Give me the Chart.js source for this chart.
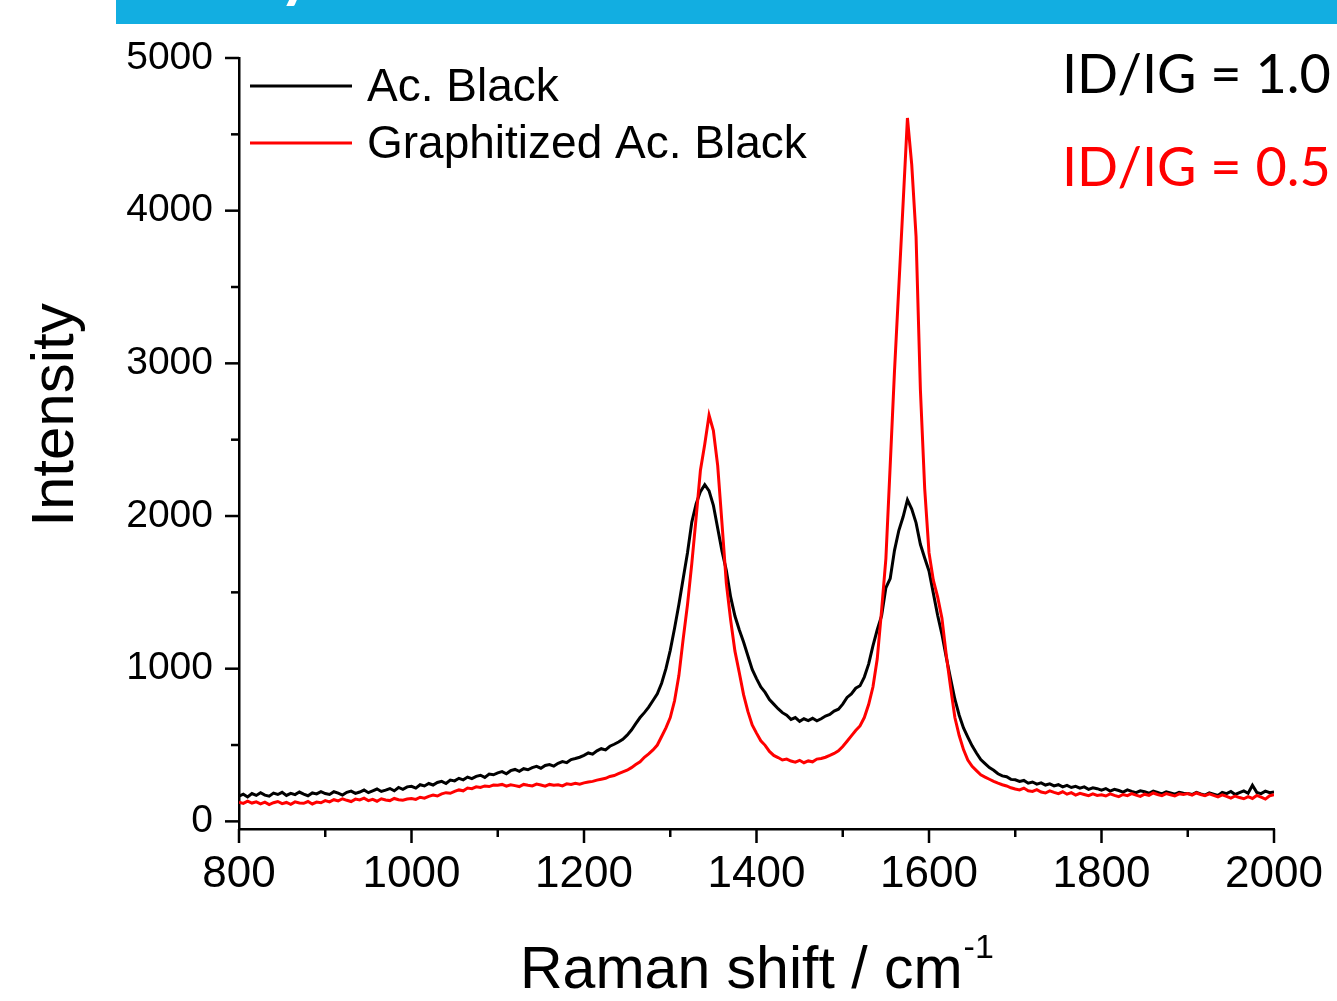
<!DOCTYPE html>
<html>
<head>
<meta charset="utf-8">
<title>Raman spectra</title>
<script src="https://cdn.jsdelivr.net/npm/chart.js@4.4.1/dist/chart.umd.min.js"></script>
<style>
  html, body { margin: 0; padding: 0; background: #fff; overflow: hidden; }
  #wrap { position: relative; width: 1337px; height: 1001px; }
  #banner { position: absolute; left: 116px; top: 0; width: 1221px; height: 24px; background: #12aee1; overflow: hidden; }
  #banner span { position: absolute; left: 163px; top: -60px; font: bold 64px/64px Lato, "Open Sans", sans-serif; color: #fff; }
  #spectrum { position: absolute; left: 0; top: 0; }
</style>
</head>
<body>
<div id="wrap">
  <div id="banner"><span>y</span></div>
  <canvas id="spectrum" width="1337" height="1001"></canvas>
</div>
<script>
// Raman shift grid (cm^-1)
const ramanShift = [
  800,805,810,815,820,825,830,835,840,845,850,855,860,865,870,875,880,885,890,895,
  900,905,910,915,920,925,930,935,940,945,950,955,960,965,970,975,980,985,990,995,
  1000,1005,1010,1015,1020,1025,1030,1035,1040,1045,1050,1055,1060,1065,1070,1075,1080,1085,1090,1095,
  1100,1105,1110,1115,1120,1125,1130,1135,1140,1145,1150,1155,1160,1165,1170,1175,1180,1185,1190,1195,
  1200,1205,1210,1215,1220,1225,1230,1235,1240,1245,1250,1255,1260,1265,1270,1275,1280,1285,1290,1295,
  1300,1305,1310,1315,1320,1325,1330,1335,1340,1345,1350,1355,1360,1365,1370,1375,1380,1385,1390,1395,
  1400,1405,1410,1415,1420,1425,1430,1435,1440,1445,1450,1455,1460,1465,1470,1475,1480,1485,1490,1495,
  1500,1505,1510,1515,1520,1525,1530,1535,1540,1545,1550,1555,1560,1565,1570,1575,1580,1585,1590,1595,
  1600,1605,1610,1615,1620,1625,1630,1635,1640,1645,1650,1655,1660,1665,1670,1675,1680,1685,1690,1695,
  1700,1705,1710,1715,1720,1725,1730,1735,1740,1745,1750,1755,1760,1765,1770,1775,1780,1785,1790,1795,
  1800,1805,1810,1815,1820,1825,1830,1835,1840,1845,1850,1855,1860,1865,1870,1875,1880,1885,1890,1895,
  1900,1905,1910,1915,1920,1925,1930,1935,1940,1945,1950,1955,1960,1965,1970,1975,1980,1985,1990,1995,
  2000
];

// Ac. Black intensity
const acBlack = [
  165,178,160,182,170,188,172,165,185,176,190,170,183,175,192,178,168,186,180,195,
  182,176,194,185,172,190,198,183,192,205,188,200,212,196,205,215,200,222,210,226,
  230,218,240,232,248,238,255,262,248,270,265,282,272,290,280,295,302,288,310,305,
  318,326,312,332,340,328,345,338,352,360,348,366,372,362,380,392,385,405,412,420,
  432,448,440,462,476,468,492,505,520,538,565,598,640,680,712,748,792,835,905,1000,
  1120,1265,1420,1590,1760,1960,2080,2160,2205,2165,2070,1920,1770,1645,1470,1345,1255,1175,1085,995,
  935,880,845,798,768,738,712,695,668,680,655,672,660,675,658,672,690,700,722,735,
  768,812,835,872,888,945,1030,1150,1255,1345,1530,1590,1775,1905,1995,2105,2045,1955,1815,1725,
  1640,1495,1350,1225,1075,935,800,695,612,552,495,448,405,378,352,335,312,298,292,275,
  272,262,268,250,258,244,252,238,246,232,240,226,236,222,230,218,226,210,220,214,
  205,215,198,210,202,192,206,196,188,200,194,184,198,190,180,194,186,178,190,184,
  182,176,190,180,172,186,178,170,190,182,196,176,188,200,184,236,190,182,198,188,
  192
];

// Graphitized Ac. Black intensity
const graphitizedBlack = [
  125,118,132,120,128,115,126,110,122,130,116,124,112,128,120,118,130,114,126,122,
  136,128,142,134,148,138,130,146,140,152,136,144,132,148,140,136,150,142,138,146,
  150,144,158,152,164,172,166,180,188,184,196,206,200,218,214,226,222,232,228,238,
  236,242,230,240,234,228,242,236,232,244,238,230,242,236,240,232,246,242,250,244,
  252,258,262,270,276,282,294,300,312,324,335,352,372,390,420,442,468,500,556,612,
  680,790,955,1195,1420,1690,1990,2300,2470,2660,2560,2330,1950,1560,1320,1115,975,830,720,632,
  578,528,498,458,432,418,402,408,395,388,400,384,396,390,408,412,420,432,445,462,
  490,525,560,595,625,680,765,880,1065,1380,1720,2330,2950,3500,4050,4607,4300,3830,2830,2180,
  1760,1580,1470,1330,1090,880,680,562,470,402,360,332,305,290,276,262,250,240,232,220,
  212,206,218,200,196,208,192,186,200,190,182,194,178,188,172,184,176,168,180,170,
  174,166,180,170,162,176,168,182,172,164,178,170,186,176,168,182,174,166,180,176,
  182,172,186,176,168,180,170,160,174,164,152,166,156,148,162,150,170,158,146,168,
  175
];

const seriesNames = ['Ac. Black', 'Graphitized Ac. Black'];
const ratioLabels = ['ID/IG = 1.0', 'ID/IG = 0.5'];

const xMajorTicks = [800, 1000, 1200, 1400, 1600, 1800, 2000];
const xMinorTicks = [900, 1100, 1300, 1500, 1700, 1900];
const yMajorTicks = [0, 1000, 2000, 3000, 4000, 5000];
const yMinorTicks = [500, 1500, 2500, 3500, 4500];

const ARIAL = '"Liberation Sans", Arial, Helvetica, sans-serif';
const CALIBRI = 'Lato, "Open Sans", sans-serif';

const toPoints = ys => ramanShift.map((x, i) => ({ x: x, y: ys[i] }));

// Tick marks, axis titles, legend and ratio annotations
const decorations = {
  id: 'decorations',
  afterDraw(chart) {
    const { ctx, scales: { x, y } } = chart;
    ctx.save();
    ctx.strokeStyle = '#000';
    ctx.lineWidth = 2.5;
    ctx.lineCap = 'butt';
    const xAxisY = x.top;
    const yAxisX = y.right;
    const seg = (x1, y1, x2, y2) => { ctx.beginPath(); ctx.moveTo(x1, y1); ctx.lineTo(x2, y2); ctx.stroke(); };
    xMajorTicks.forEach(v => { const p = x.getPixelForValue(v); seg(p, xAxisY, p, xAxisY + 14); });
    xMinorTicks.forEach(v => { const p = x.getPixelForValue(v); seg(p, xAxisY, p, xAxisY + 8); });
    yMajorTicks.forEach(v => { const p = y.getPixelForValue(v); seg(yAxisX, p, yAxisX - 14, p); });
    yMinorTicks.forEach(v => { const p = y.getPixelForValue(v); seg(yAxisX, p, yAxisX - 8, p); });

    ctx.fillStyle = '#000';
    // y axis title
    ctx.save();
    ctx.translate(73, 415);
    ctx.rotate(-Math.PI / 2);
    ctx.font = '60px ' + ARIAL;
    ctx.textAlign = 'center';
    ctx.textBaseline = 'alphabetic';
    ctx.fillText('Intensity', 0, 0);
    ctx.restore();

    // x axis title with superscript
    ctx.font = '59px ' + ARIAL;
    ctx.textAlign = 'left';
    ctx.textBaseline = 'alphabetic';
    const main = 'Raman shift / cm';
    ctx.fillText(main, 520, 988);
    const w = ctx.measureText(main).width;
    ctx.font = '34px ' + ARIAL;
    ctx.fillText('-1', 520 + w + 1, 958);

    // legend
    const colors = chart.data.datasets.map(d => d.borderColor);
    const rows = [86, 143];
    ctx.font = '46px ' + ARIAL;
    ctx.textBaseline = 'middle';
    rows.forEach((ry, i) => {
      ctx.strokeStyle = colors[i];
      ctx.lineWidth = 3;
      seg(250, ry, 352, ry);
      ctx.fillStyle = '#000';
      ctx.fillText(seriesNames[i], 367, ry + 2);
    });

    // ID/IG ratios
    ctx.font = '54px ' + CALIBRI;
    ctx.textBaseline = 'alphabetic';
    ctx.fillStyle = colors[0];
    ctx.fillText(ratioLabels[0], 1062, 93);
    ctx.fillStyle = colors[1];
    ctx.fillText(ratioLabels[1], 1062, 186);
    ctx.restore();
  }
};

new Chart(document.getElementById('spectrum'), {
  type: 'line',
  data: {
    datasets: [
      { label: seriesNames[0], data: toPoints(acBlack), borderColor: '#000000', borderWidth: 3, pointRadius: 0, tension: 0, order: 2 },
      { label: seriesNames[1], data: toPoints(graphitizedBlack), borderColor: '#ff0000', borderWidth: 3, pointRadius: 0, tension: 0, order: 1 }
    ]
  },
  options: {
    responsive: false,
    animation: false,
    devicePixelRatio: 1,
    layout: { padding: { top: 58, right: 63, left: 0, bottom: 0 } },
    plugins: { legend: { display: false }, tooltip: { enabled: false } },
    scales: {
      x: {
        type: 'linear', min: 800, max: 2000,
        afterBuildTicks: s => { s.ticks = xMajorTicks.map(v => ({ value: v })); },
        afterFit: s => { s.height = 172; s.paddingLeft = 0; s.paddingRight = 0; },
        grid: { display: false, drawTicks: false },
        border: { display: true, color: '#000', width: 2.5 },
        ticks: { color: '#000', font: { family: ARIAL, size: 44 }, padding: 19, maxRotation: 0, autoSkip: false, callback: v => String(v) }
      },
      y: {
        type: 'linear', min: -50, max: 5000,
        afterBuildTicks: s => { s.ticks = yMajorTicks.map(v => ({ value: v })); },
        afterFit: s => { s.width = 239; s.paddingTop = 0; s.paddingBottom = 0; },
        grid: { display: false, drawTicks: false },
        border: { display: true, color: '#000', width: 2.5 },
        ticks: { color: '#000', font: { family: ARIAL, size: 39 }, padding: 26, autoSkip: false, callback: v => String(v) }
      }
    }
  },
  plugins: [decorations]
});
</script>
</body>
</html>
